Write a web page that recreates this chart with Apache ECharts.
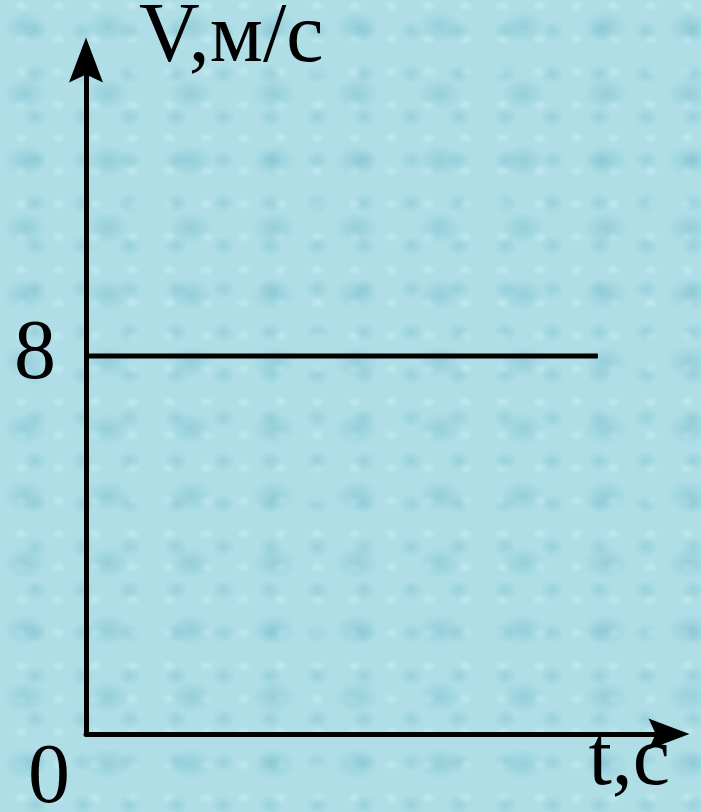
<!DOCTYPE html>
<html>
<head>
<meta charset="utf-8">
<script src="https://cdn.jsdelivr.net/npm/echarts@6/dist/echarts.min.js"></script>
<style>
  html, body { margin: 0; padding: 0; }
  body {
    background-color: #afdee6;
    background-image:
      radial-gradient(ellipse 22px 16px at 30% 40%, rgba(118,188,204,0.45), rgba(118,188,204,0) 100%),
      radial-gradient(ellipse 12px 10px at 75% 72%, rgba(122,190,205,0.4), rgba(122,190,205,0) 100%),
      radial-gradient(ellipse 8px 6px at 58% 18%, rgba(205,242,246,0.55), rgba(205,242,246,0) 100%);
    background-size: 83px 67px, 47px 43px, 37px 33px;
  }
  #chart { width: 701px; height: 812px; }
</style>
</head>
<body>
<div id="chart"></div>
<script>
// скорость постоянна: V = 8 м/с
const lineTimes = [0, 8.78];
const lineSpeeds = [8, 8];
const yTickValues = [8];
const xTickValues = [0];

const arrowPath = 'path://M0,0 L17,45 L0,37 L-17,45 Z';
const serif = 'Liberation Serif';

let myChart = echarts.init(document.getElementById('chart'));
let option = {
  backgroundColor: 'transparent',
  animation: false,
  grid: { left: 86, right: 32, top: 60, bottom: 78, containLabel: false, outerBoundsMode: 'none' },
  xAxis: {
    type: 'value',
    min: 0,
    max: 10,
    name: 't,с',
    nameLocation: 'end',
    nameGap: 1,
    nameTextStyle: {
      fontFamily: serif, fontSize: 84, color: '#000',
      align: 'right', verticalAlign: 'top', lineHeight: 55
    },
    axisLine: {
      show: true,
      symbol: ['none', arrowPath],
      symbolSize: [31, 42],
      lineStyle: { color: '#000', width: 5 }
    },
    axisTick: { show: false },
    splitLine: { show: false },
    axisLabel: {
      customValues: xTickValues,
      fontFamily: serif, fontSize: 84, color: '#000',
      align: 'right', verticalAlign: 'top', lineHeight: 91,
      margin: 0, padding: [0, 16, 0, 0]
    }
  },
  yAxis: {
    type: 'value',
    min: 0,
    max: 14.26,
    name: 'V,м/с',
    nameLocation: 'end',
    nameGap: 21,
    nameTextStyle: {
      fontFamily: serif, fontSize: 84, color: '#000',
      align: 'left', verticalAlign: 'middle', padding: [0, 0, 0, 53]
    },
    axisLine: {
      show: true,
      symbol: ['none', arrowPath],
      symbolSize: [34, 45],
      lineStyle: { color: '#000', width: 5 }
    },
    axisTick: { show: false },
    splitLine: { show: false },
    axisLabel: {
      customValues: yTickValues,
      fontFamily: serif, fontSize: 84, color: '#000',
      margin: 30
    }
  },
  series: [
    {
      type: 'line',
      data: lineTimes.map((t, i) => [t, lineSpeeds[i]]),
      symbol: 'none',
      lineStyle: { color: '#000', width: 5 },
      z: 1
    }
  ]
};
myChart.setOption(option);
</script>
</body>
</html>
